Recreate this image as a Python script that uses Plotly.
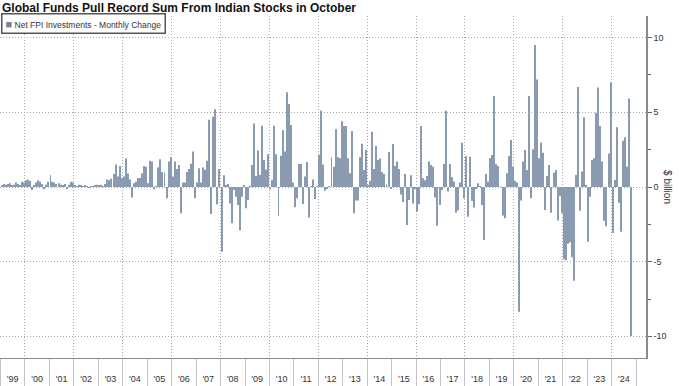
import plotly.graph_objects as go
import pandas as pd

# Net FPI investments into Indian equities, monthly change ($ billion)
y1999 = [0.1, 0.2, 0.15, 0.2, 0.25, 0.1, 0.15, 0.3, 0.2, 0.1, 0.35, 0.3]
y2000 = [0.45, 0.5, 0.4, -0.2, 0.1, 0.3, 0.45, 0.35, 0.2, -0.15, 0.15, 0.35]
y2001 = [0.8, 0.35, 0.3, 0.2, 0.25, 0.15, 0.1, 0.2, -0.1, 0.15, 0.35, 0.3]
y2002 = [0.1, 0.05, 0.15, 0.1, 0.05, 0.1, 0.05, -0.05, 0.05, 0.02, 0.1, 0.15]
y2003 = [0.1, 0.15, 0.05, 0.2, 0.5, 0.45, 0.55, 0.87, 1.5, 0.7, 1.4, 0.6]
y2004 = [0.7, 1.9, 0.9, 0.5, -0.7, 0.25, 0.35, 0.6, 0.6, 0.9, 1.4, 1.35]
y2005 = [0.25, 1.75, 1.7, -0.15, 0.05, 1.3, 1.85, 1.0, 0.95, -0.75, 1.7, 2.0]
y2006 = [0.7, 1.7, 1.2, 1.47, -1.76, 0.3, 0.3, 1.0, 1.2, 1.55, 2.37, -0.76]
y2007 = [0.3, 1.25, 0.3, 1.3, 1.15, 1.76, 4.5, -1.8, 4.7, 5.2, -1.16, 1.2]
y2008 = [-4.33, 0.78, 0.1, 0.2, -1.1, -2.43, -0.2, -0.65, -1.2, -2.9, -0.65, 0.13]
y2009 = [-1.43, -0.87, 0.05, 1.47, 4.26, 0.74, 2.45, 0.8, 4.1, 1.8, 1.18, 2.2]
y2010 = [-0.15, 0.47, 4.1, 2.2, -1.94, 2.1, 3.8, 2.37, 6.34, 5.56, 4.15, 0.3]
y2011 = [-1.36, -0.76, 1.54, 1.54, -1.14, 0.7, 1.67, -2.05, 0.05, 0.5, -0.8, 0.05]
y2012 = [2.15, 5.1, 1.5, -0.25, -0.1, 0.05, 2.0, 1.36, 3.86, 2.0, 1.92, 4.4]
y2013 = [4.08, 4.08, 1.92, 0.92, 3.75, -1.76, -0.9, -0.9, 2.0, 2.9, 1.14, 2.5]
y2014 = [0.1, 0.42, 3.7, 1.2, 2.75, 1.8, 1.9, 1.0, 0.87, 0.18, 2.34, -0.09]
y2015 = [2.88, 1.4, 1.7, 1.2, -0.5, -1.0, 0.87, -2.55, -0.87, 0.78, -1.1, -0.15]
y2016 = [-1.65, -1.16, 4.08, 0.58, 0.45, 0.74, 1.7, 1.47, 1.36, -0.7, -2.6, -1.2]
y2017 = [-0.2, 1.54, 5.1, -0.3, 1.54, 0.65, 0.36, -1.72, -1.58, 0.3, 2.97, -0.76]
y2018 = [2.08, -2.0, 2.03, -0.94, -1.38, -0.15, 0.25, 0.05, -1.2, -3.55, 0.87, 0.36]
y2019 = [1.92, 2.14, 6.1, 1.54, 1.4, 0.05, -1.9, -2.1, 0.92, 2.08, 3.15, 1.36]
y2020 = [0.42, 0.3, -8.35, -0.9, 1.7, 2.48, 1.14, 6.1, -0.76, 2.52, 9.5, 7.2]
y2021 = [1.92, 2.97, 2.3, -1.54, 0.74, 1.47, -1.72, 0.96, 1.14, -2.25, -0.6, -1.76]
y2022 = [-4.84, -4.9, -3.8, -3.7, -4.7, -6.27, 0.8, 6.7, -1.59, 1.03, 4.67, 0.1]
y2023 = [-3.66, -0.65, 1.8, 1.92, 4.98, 6.67, 4.08, 1.7, -2.26, -2.63, 2.25, 6.99]
y2024 = [-3.08, 0.47, 4.0, -1.05, -3.0, 3.1, 3.33, 1.36, 5.92, -9.98]

years = list(range(1999, 2025))
year_labels = ["'99", "'00", "'01", "'02", "'03", "'04", "'05", "'06", "'07", "'08",
               "'09", "'10", "'11", "'12", "'13", "'14", "'15", "'16", "'17", "'18",
               "'19", "'20", "'21", "'22", "'23", "'24"]
y_ticks = [-10, -5, 0, 5, 10]
y_minor = [-7.5, -2.5, 2.5, 7.5]

values = (y1999 + y2000 + y2001 + y2002 + y2003 + y2004 + y2005 + y2006 + y2007 +
          y2008 + y2009 + y2010 + y2011 + y2012 + y2013 + y2014 + y2015 + y2016 +
          y2017 + y2018 + y2019 + y2020 + y2021 + y2022 + y2023 + y2024)
months = pd.date_range("1999-01-01", periods=len(values), freq="MS")

BAR = "#8a9ab1"
LEG = "#6e84a3"
GRID = "#a8a8a8"
AXIS = "#8a8a8a"
TXT = "#333333"
FONT = "Liberation Sans, Arial, sans-serif"
XRANGE = ["1998-12-24", "2025-05-29"]
DOTS = "1px,2px"

fig = go.Figure()
fig.add_trace(go.Bar(
    x=months, y=values, xperiod="M1", xperiodalignment="middle",
    marker=dict(color=BAR, line=dict(width=0)),
    name="Net FPI Investments - Monthly Change", showlegend=False,
))
# carrier trace for the overlay axis (year separators + even-year grid)
fig.add_trace(go.Scatter(x=[], y=[], xaxis="x2", showlegend=False, hoverinfo="skip"))

fig.update_layout(
    width=679, height=386, autosize=False,
    margin=dict(l=0, r=33, t=16, b=28),
    paper_bgcolor="white", plot_bgcolor="white",
    font=dict(family=FONT, size=9, color=TXT),
    bargap=0.5,
    title=dict(
        text="<b>Global Funds Pull Record Sum From Indian Stocks in October</b>",
        x=2 / 679, xanchor="left", xref="container",
        y=1 - 8 / 386, yanchor="middle", yref="container",
        font=dict(family=FONT, size=12, color="#111111"), pad=dict(t=0, b=0, l=0, r=0),
    ),
    xaxis=dict(
        type="date", range=XRANGE,
        tickmode="array", tickvals=[f"{y}-07-02" for y in years], ticktext=year_labels,
        ticks="outside", ticklen=12, tickcolor="rgba(0,0,0,0)",
        tickfont=dict(size=9, color=TXT),
        showgrid=False, zeroline=False,
        showline=True, linecolor=AXIS, linewidth=1,
    ),
    xaxis2=dict(
        type="date", range=XRANGE, overlaying="x", anchor="y", side="bottom",
        tickmode="array", tickvals=[f"{y}-01-01" for y in years + [2025] if y % 2 == 0],
        showticklabels=False, ticks="outside", ticklen=28, tickwidth=1, tickcolor="#c4c4c4",
        showgrid=True, gridcolor=GRID, griddash=DOTS, gridwidth=1,
        zeroline=False, showline=False,
        minor=dict(tickvals=[f"{y}-01-01" for y in years + [2025] if y % 2 == 1],
                   ticks="outside", ticklen=28, tickwidth=1, tickcolor="#c4c4c4",
                   showgrid=False),
    ),
    yaxis=dict(
        side="right", range=[-11.45, 11.45],
        tickmode="array", tickvals=y_ticks, ticktext=[str(v) for v in y_ticks],
        ticks="outside", ticklen=4, tickwidth=1, tickcolor="#666666",
        tickfont=dict(size=9, color=TXT),
        showline=True, linecolor=AXIS, linewidth=1.5,
        showgrid=True, gridcolor=GRID, griddash=DOTS, gridwidth=1,
        zeroline=False,
        minor=dict(tickvals=y_minor, ticks="outside", ticklen=3, tickwidth=1,
                   tickcolor="#666666", showgrid=False),
    ),
    annotations=[
        dict(text="$ billion", xref="paper", yref="paper", x=1.034, y=0.5,
             textangle=90, showarrow=False, font=dict(size=10, color=TXT),
             xanchor="center", yanchor="middle"),
        dict(text=(f'<span style="color:{LEG};font-size:11px">■</span>'
                   ' Net FPI Investments - Monthly Change'),
             xref="paper", yref="paper", x=0.0015, y=1.009, xanchor="left", yanchor="top",
             showarrow=False, font=dict(size=8.5, color=TXT), bgcolor="white",
             bordercolor="#555555", borderwidth=1.5, borderpad=3, align="left"),
    ],
)

fig.write_html("out.html", config={"displayModeBar": False},
               post_script="document.body.style.margin='0px';")
